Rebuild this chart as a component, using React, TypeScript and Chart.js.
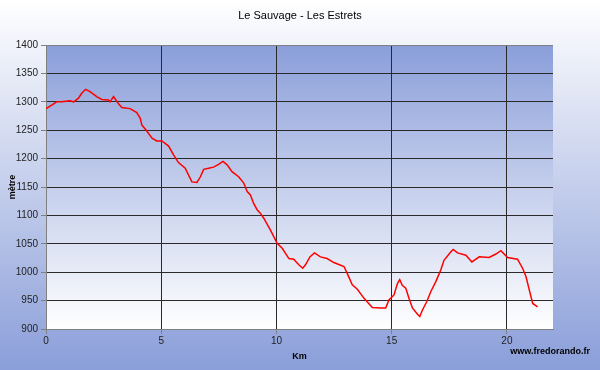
import React, { useEffect, useRef } from "react";
import { Chart, registerables } from "chart.js";

Chart.register(...registerables);

const chartTitle = "Le Sauvage - Les Estrets";
const xAxisTitle = "Km";
const yAxisTitle = "mètre";
const watermark = "www.fredorando.fr";

const km = [
  0, 0.25, 0.46, 0.68, 1.04, 1.2, 1.4, 1.55, 1.72, 1.91, 2.2, 2.42, 2.71, 2.78, 2.93,
  3.14, 3.29, 3.65, 3.94, 4.09, 4.16, 4.35, 4.6, 4.81, 5.03, 5.32, 5.54, 5.75, 6.04,
  6.33, 6.55, 6.7, 6.84, 7.06, 7.27, 7.49, 7.68, 7.86, 8.07, 8.36, 8.58, 8.73, 8.87,
  9.01, 9.16, 9.3, 9.45, 9.74, 10.03, 10.25, 10.54, 10.75, 10.97, 11.14, 11.26, 11.45,
  11.65, 11.91, 12.2, 12.49, 12.93, 13.07, 13.29, 13.51, 13.8, 14.16, 14.52, 14.74,
  14.88, 15.1, 15.25, 15.35, 15.46, 15.61, 15.75, 15.9, 16.12, 16.22, 16.33, 16.52,
  16.7, 16.91, 17.13, 17.27, 17.57, 17.67, 17.86, 18.22, 18.48, 18.8, 19.23, 19.52,
  19.74, 20.03, 20.46, 20.68, 20.83, 20.97, 21.12, 21.33,
];

const altitude = [
  1288, 1294, 1300, 1300, 1302, 1300, 1306, 1315, 1322, 1318, 1309, 1304, 1303, 1300, 1309,
  1297, 1290, 1288, 1281, 1271, 1259, 1250, 1236, 1231, 1231, 1222, 1206, 1193, 1183,
  1159, 1158, 1168, 1181, 1183, 1185, 1190, 1195, 1189, 1177, 1168, 1157, 1142, 1136,
  1121, 1110, 1104, 1095, 1074, 1051, 1042, 1024, 1023, 1013, 1007, 1013, 1027,
  1034, 1027, 1024, 1017, 1010, 998, 978, 970, 954, 938, 937, 937,
  951, 960, 980, 987, 977, 972, 954, 937, 926, 922, 933, 948,
  966, 983, 1004, 1021, 1036, 1040, 1034, 1030, 1018, 1027, 1026, 1032,
  1038, 1026, 1023, 1007, 992, 969, 945, 939,
];

const FONT = "Arial, 'Liberation Sans', sans-serif";

const bgPlugin = {
  id: "bgPlugin",
  beforeDraw(chart: any) {
    const { ctx, width, height, chartArea } = chart;
    ctx.save();
    const g = ctx.createLinearGradient(0, 0, 0, height);
    g.addColorStop(0, "#ffffff");
    g.addColorStop(1, "#8a9ed9");
    ctx.fillStyle = g;
    ctx.fillRect(0, 0, width, height);
    const g2 = ctx.createLinearGradient(0, chartArea.top, 0, chartArea.bottom);
    g2.addColorStop(0, "#8a9ed9");
    g2.addColorStop(1, "#ffffff");
    ctx.fillStyle = g2;
    ctx.fillRect(chartArea.left, chartArea.top, chartArea.right - chartArea.left, chartArea.bottom - chartArea.top);
    ctx.restore();
  },
  afterDraw(chart: any) {
    const { ctx } = chart;
    ctx.save();
    ctx.fillStyle = "#000";
    ctx.font = `11px ${FONT}`;
    ctx.textAlign = "center";
    ctx.textBaseline = "middle";
    ctx.fillText(chartTitle, 300, 16);
    ctx.font = `bold 9px ${FONT}`;
    ctx.textAlign = "right";
    ctx.fillText(watermark, 590, 352);
    ctx.restore();
  },
};

export default function App() {
  const ref = useRef<HTMLCanvasElement>(null);
  useEffect(() => {
    if (!ref.current) return;
    const points = km.map((x, i) => ({ x, y: altitude[i] }));
    const chart = new Chart(ref.current, {
      type: "line",
      data: {
        datasets: [
          {
            data: points,
            borderColor: "#ff0000",
            borderWidth: 1.5,
            pointRadius: 0,
            tension: 0,
            fill: false,
          },
        ],
      },
      options: {
        animation: false,
        responsive: false,
        maintainAspectRatio: false,
        layout: { padding: { top: 45, right: 47, left: 0, bottom: 0 } },
        plugins: { legend: { display: false }, title: { display: false }, tooltip: { enabled: false } },
        scales: {
          x: {
            type: "linear",
            min: 0,
            max: 22,
            afterFit: (s: any) => { s.height = 41; },
            afterBuildTicks: (s: any) => { s.ticks = s.ticks.filter((t: any) => t.value <= 20 && t.value % 5 === 0); },
            ticks: { stepSize: 5, color: "#222", font: { family: FONT, size: 10 }, padding: 1, maxRotation: 0, callback: (v: any) => String(v) },
            grid: {
              color: (c: any) => (c.tick && c.tick.value === 0 ? "#808080" : "#2a2a2a"),
              tickColor: "#808080",
              tickLength: 5,
              lineWidth: 1,
            },
            border: { color: "#808080" },
            title: { display: true, text: xAxisTitle, color: "#000", font: { family: FONT, size: 9, weight: "bold" }, padding: { top: 4, bottom: 8 } },
          },
          y: {
            min: 900,
            max: 1400,
            afterFit: (s: any) => { s.width = 46; },
            ticks: { stepSize: 50, color: "#222", font: { family: FONT, size: 10 }, padding: 3, callback: (v: any) => String(v) },
            grid: {
              color: (c: any) => (c.tick && (c.tick.value === 900 || c.tick.value === 1400) ? "#808080" : "#2a2a2a"),
              tickColor: "#808080",
              tickLength: 5,
              lineWidth: 1,
            },
            border: { color: "#808080" },
            title: { display: true, text: yAxisTitle, color: "#000", font: { family: FONT, size: 9, weight: "bold" }, padding: { top: 7, bottom: 0 } },
          },
        },
      },
      plugins: [bgPlugin],
    });
    return () => chart.destroy();
  }, []);
  return (
    <div style={{ position: "fixed", left: 0, top: 0, width: 600, height: 370 }}>
      <canvas ref={ref} width={600} height={370} style={{ width: 600, height: 370 }} />
    </div>
  );
}
